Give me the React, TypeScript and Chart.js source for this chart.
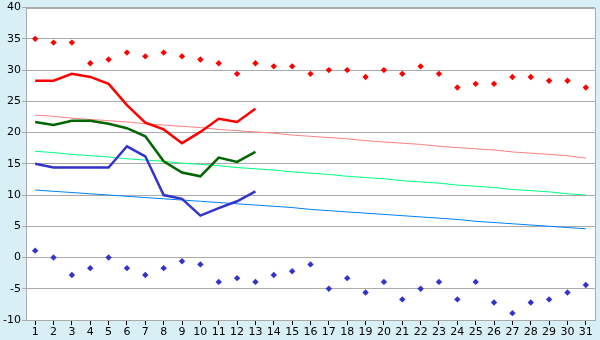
import React, { useEffect, useRef } from "react";
import { Chart, registerables } from "chart.js";

Chart.register(...registerables);

const days = Array.from({ length: 31 }, (_, i) => String(i + 1));

const recordHigh = [35, 34.4, 34.4, 31.1, 31.7, 32.8, 32.2, 32.8, 32.2, 31.7, 31.1, 29.4, 31.1, 30.6, 30.6, 29.4, 30, 30, 28.9, 30, 29.4, 30.6, 29.4, 27.2, 27.8, 27.8, 28.9, 28.9, 28.3, 28.3, 27.2];
const recordLow = [1.1, 0, -2.8, -1.7, 0, -1.7, -2.8, -1.7, -0.6, -1.1, -3.9, -3.3, -3.9, -2.8, -2.2, -1.1, -5, -3.3, -5.6, -3.9, -6.7, -5, -3.9, -6.7, -3.9, -7.2, -8.9, -7.2, -6.7, -5.6, -4.4];

const actualHigh = [28.3, 28.3, 29.4, 28.9, 27.8, 24.4, 21.6, 20.5, 18.3, 20.1, 22.2, 21.7, 23.8];
const actualMean = [21.7, 21.2, 21.9, 21.9, 21.4, 20.7, 19.4, 15.4, 13.6, 13.0, 16.0, 15.3, 16.9];
const actualLow = [15.0, 14.4, 14.4, 14.4, 14.4, 17.8, 16.2, 10.0, 9.4, 6.7, 7.9, 9.0, 10.6];

const normalHigh = [22.8, 22.6, 22.3, 22.1, 21.9, 21.7, 21.4, 21.2, 21.0, 20.8, 20.5, 20.3, 20.1, 19.9, 19.6, 19.4, 19.2, 19.0, 18.7, 18.5, 18.3, 18.1, 17.8, 17.6, 17.4, 17.2, 16.9, 16.7, 16.5, 16.3, 15.9];
const normalMean = [17.0, 16.8, 16.5, 16.3, 16.1, 15.8, 15.6, 15.4, 15.1, 14.9, 14.7, 14.4, 14.2, 14.0, 13.7, 13.5, 13.3, 13.0, 12.8, 12.6, 12.3, 12.1, 11.9, 11.6, 11.4, 11.2, 10.9, 10.7, 10.5, 10.2, 10.0];
const normalLow = [10.8, 10.6, 10.4, 10.2, 10.0, 9.8, 9.6, 9.4, 9.2, 9.0, 8.8, 8.6, 8.4, 8.2, 8.0, 7.7, 7.5, 7.3, 7.1, 6.9, 6.7, 6.5, 6.3, 6.1, 5.8, 5.6, 5.4, 5.2, 5.0, 4.8, 4.6];

const bgPlugin = {
  id: "bgPlugin",
  beforeDraw(chart: any) {
    const { ctx, chartArea } = chart;
    ctx.save();
    ctx.fillStyle = "#d9eff6";
    ctx.fillRect(0, 0, chart.width, chart.height);
    ctx.fillStyle = "#ffffff";
    ctx.fillRect(chartArea.left, chartArea.top, chartArea.right - chartArea.left, chartArea.bottom - chartArea.top);
    ctx.restore();
  },
  afterDatasetsDraw(chart: any) {
    const { ctx, chartArea } = chart;
    ctx.save();
    ctx.strokeStyle = "#aaaaaa";
    ctx.lineWidth = 1;
    ctx.strokeRect(Math.round(chartArea.left) + 0.5, Math.round(chartArea.top) + 0.5, Math.round(chartArea.right - chartArea.left), Math.round(chartArea.bottom - chartArea.top));
    ctx.restore();
  },
};

export default function App() {
  const ref = useRef<HTMLCanvasElement>(null);
  useEffect(() => {
    document.body.style.margin = "0";
    const font = { family: "'DejaVu Sans', sans-serif", size: 11 };
    const pts = (data: number[], color: string) => ({
      type: "line" as const,
      data,
      showLine: false,
      pointStyle: "rectRot" as const,
      pointRadius: 3.2,
      pointBackgroundColor: color,
      pointBorderColor: color,
      pointBorderWidth: 0,
      borderColor: color,
    });
    const line = (data: number[], color: string, width: number) => ({
      type: "line" as const,
      data,
      borderColor: color,
      borderWidth: width,
      pointRadius: 0,
      tension: 0,
      fill: false,
    });
    const chart = new Chart(ref.current!, {
      type: "line",
      data: {
        labels: days,
        datasets: [
          pts(recordHigh, "#ff0000"),
          pts(recordLow, "#3333cc"),
          line(actualHigh, "#ff0000", 2.5),
          line(actualMean, "#006600", 2.5),
          line(actualLow, "#3333cc", 2.5),
          line(normalHigh, "#ff8080", 1),
          line(normalMean, "#00ff80", 1),
          line(normalLow, "#0080ff", 1),
        ] as any,
      },
      options: {
        animation: false,
        responsive: false,
        events: [],
        layout: { padding: { top: 5, right: 5, left: 0, bottom: 0 } },
        plugins: { legend: { display: false }, tooltip: { enabled: false } },
        scales: {
          x: {
            type: "category",
            offset: true,
            grid: { display: true, drawOnChartArea: false, drawTicks: true, tickLength: 5, offset: false, color: "#000000" },
            border: { display: true, color: "#aaaaaa" },
            ticks: { font, color: "#000000", padding: 1, maxRotation: 0, autoSkip: false },
            afterFit: (s: any) => { s.height = 20; },
          },
          y: {
            min: -10,
            max: 40,
            grid: { color: "#aaaaaa", tickLength: 4, drawTicks: true },
            border: { display: true, color: "#aaaaaa" },
            ticks: { stepSize: 5, font, color: "#000000", padding: 1 },
            afterFit: (s: any) => { s.width = 26; },
          },
        },
      },
      plugins: [bgPlugin],
    } as any);
    return () => chart.destroy();
  }, []);
  return <canvas ref={ref} width={600} height={340} style={{ display: "block" }} />;
}
